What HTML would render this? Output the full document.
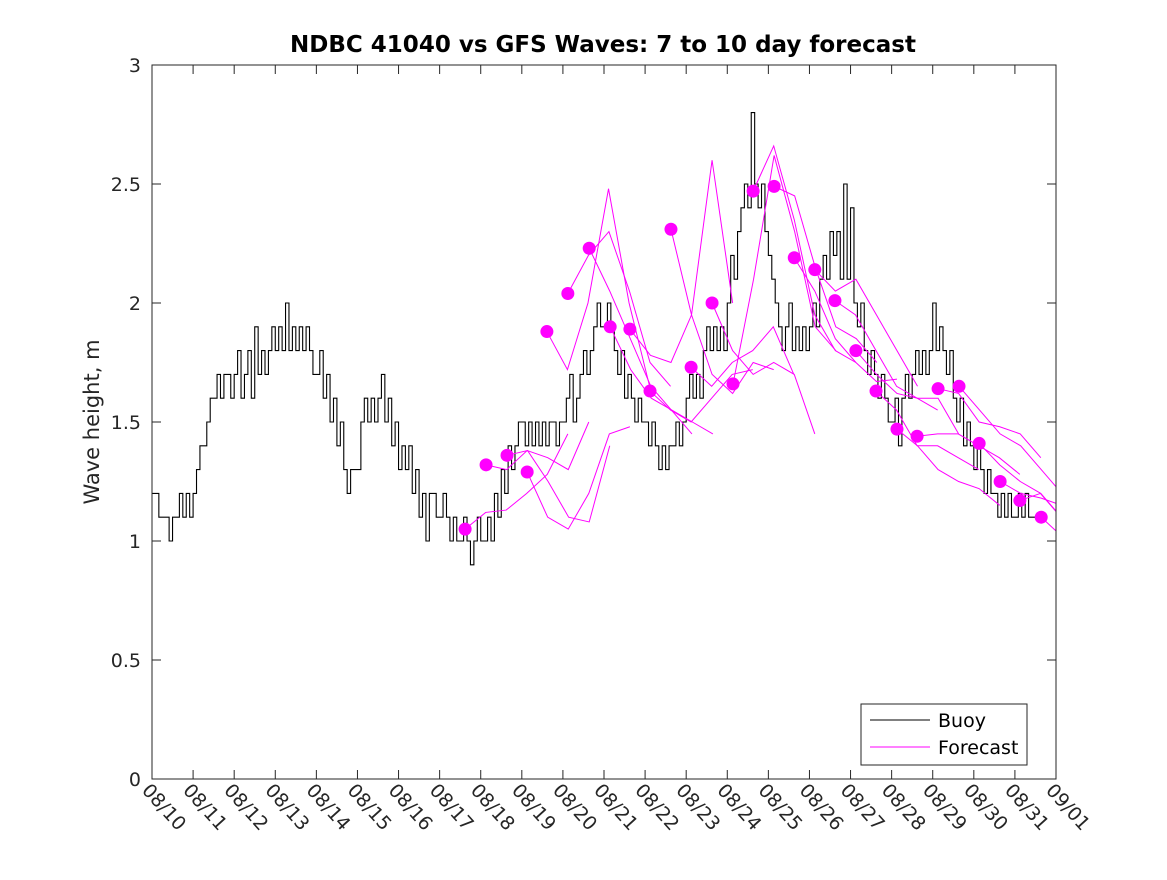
<!DOCTYPE html>
<html><head><meta charset="utf-8"><style>
body{margin:0;background:#fff;}
svg{font-family:"DejaVu Sans","Liberation Sans",sans-serif;}
</style></head><body>
<svg id="chart" width="1167" height="875">
<rect width="1167" height="875" fill="#fff"/>
<text x="603" y="52" text-anchor="middle" font-weight="bold" font-size="23">NDBC 41040 vs GFS Waves: 7 to 10 day forecast</text>
<text transform="translate(99,422) rotate(-90)" text-anchor="middle" font-size="21" fill="#262626">Wave height, m</text>
<g id="plot"></g>
</svg>
<script>
const xTickLabels=["08/10","08/11","08/12","08/13","08/14","08/15","08/16","08/17","08/18","08/19","08/20","08/21","08/22","08/23","08/24","08/25","08/26","08/27","08/28","08/29","08/30","08/31","09/01"];
const yTicks=[0,0.5,1,1.5,2,2.5,3];
const yTickLabels=["0","0.5","1","1.5","2","2.5","3"];
const buoyStep=1/12;
const buoyValues=[
1.2,1.2,1.1,1.1,1.1,1.0,1.1,1.1,1.2,1.1,1.2,1.1, 1.2,1.3,1.4,1.4,1.5,1.6,1.6,1.7,1.6,1.7,1.7,1.6,
1.7,1.8,1.6,1.7,1.8,1.6,1.9,1.7,1.8,1.7,1.8,1.9, 1.8,1.9,1.8,2.0,1.8,1.9,1.8,1.9,1.8,1.9,1.8,1.7,
1.7,1.8,1.6,1.7,1.5,1.6,1.4,1.5,1.3,1.2,1.3,1.3, 1.3,1.5,1.6,1.5,1.6,1.5,1.6,1.7,1.5,1.6,1.4,1.5,
1.3,1.4,1.3,1.4,1.2,1.3,1.1,1.2,1.0,1.2,1.2,1.1, 1.1,1.2,1.1,1.0,1.1,1.0,1.0,1.1,1.0,0.9,1.0,1.1,
1.0,1.0,1.1,1.0,1.2,1.1,1.3,1.2,1.4,1.3,1.4,1.5, 1.5,1.4,1.5,1.4,1.5,1.4,1.5,1.4,1.5,1.5,1.4,1.5,
1.5,1.6,1.7,1.5,1.6,1.7,1.8,1.7,1.8,1.9,2.0,1.9, 1.9,2.0,1.9,1.8,1.7,1.8,1.6,1.7,1.6,1.5,1.6,1.5,
1.5,1.4,1.5,1.4,1.3,1.4,1.3,1.4,1.4,1.5,1.4,1.5, 1.6,1.7,1.6,1.7,1.6,1.8,1.9,1.8,1.9,1.8,1.9,1.8,
2.0,2.2,2.1,2.3,2.4,2.5,2.4,2.8,2.5,2.4,2.5,2.3, 2.2,2.1,2.0,1.9,1.8,1.9,2.0,1.8,1.9,1.8,1.9,1.8,
1.9,2.0,1.9,2.1,2.2,2.1,2.3,2.2,2.3,2.1,2.5,2.1, 2.4,2.0,1.9,2.0,1.8,1.7,1.8,1.7,1.6,1.7,1.6,1.5,
1.5,1.6,1.4,1.6,1.7,1.6,1.7,1.8,1.7,1.8,1.7,1.8, 2.0,1.8,1.9,1.8,1.7,1.8,1.6,1.5,1.6,1.4,1.5,1.4,
1.3,1.4,1.3,1.2,1.3,1.2,1.2,1.1,1.2,1.1,1.2,1.1, 1.1,1.2,1.1,1.2,1.1,1.1];
const fcStarts=[7.62,8.13,8.64,9.13,9.61,10.12,10.64,11.15,11.63,12.12,12.63,13.12,13.63,14.14,14.63,15.14,15.63,16.13,16.62,17.13,17.62,18.13,18.62,19.13,19.64,20.13,20.64,21.12,21.64];
const fcStep=0.5;
const fcValues=[
[1.05,1.12,1.13,1.20,1.28,1.45],
[1.32,1.30,1.38,1.35,1.30,1.50],
[1.36,1.38,1.25,1.10,1.08,1.40],
[1.29,1.10,1.05,1.20,1.45,1.48],
[1.88,1.72,2.00,2.48,2.00,1.65],
[2.04,2.20,2.30,2.05,1.75,1.65],
[2.23,2.05,1.85,1.65,1.55,1.45],
[1.90,1.72,1.60,1.55,1.50,1.45],
[1.89,1.78,1.75,1.95,2.60,2.00],
[1.63,1.55,1.50,1.60,1.70,1.72],
[2.31,1.95,1.70,1.62,1.75,1.72],
[1.73,1.65,1.75,1.80,1.90,1.70],
[2.00,1.80,1.70,1.75,1.70,1.45],
[1.66,2.10,2.62,2.30,1.90,1.80],
[2.47,2.66,2.35,1.95,1.80,1.75],
[2.49,2.45,2.15,1.90,1.85,1.75],
[2.19,2.05,1.85,1.75,1.67,1.68],
[2.14,2.05,2.10,1.95,1.80,1.65],
[2.01,1.95,1.80,1.65,1.60,1.55],
[1.80,1.70,1.62,1.60,1.60,1.45],
[1.63,1.55,1.40,1.40,1.35,1.30],
[1.47,1.40,1.30,1.25,1.22,1.15],
[1.44,1.45,1.45,1.40,1.35,1.28],
[1.64,1.62,1.50,1.48,1.45,1.35],
[1.65,1.55,1.45,1.40,1.30,1.20],
[1.41,1.32,1.25,1.20,1.10,1.00],
[1.25,1.20,1.18,1.15,1.08,1.00],
[1.17,1.20,1.10,1.05],
[1.10,1.02,0.92]];

const X0=152,X1=1056,Y0=779,Y1=65,DAYS=22,YMAX=3;
const xs=d=>X0+(X1-X0)*d/DAYS;
const ys=v=>Y0-(Y0-Y1)*v/YMAX;
const NS="http://www.w3.org/2000/svg";
const plot=document.getElementById('plot');
function mk(tag,attrs,parent){const e=document.createElementNS(NS,tag);for(const k in attrs)e.setAttribute(k,attrs[k]);(parent||plot).appendChild(e);return e;}

const clip=mk('clipPath',{id:'clip'});
mk('rect',{x:X0,y:Y1,width:X1-X0,height:Y0-Y1},clip);

let d='';
buoyValues.forEach((v,i)=>{const x=xs(i*buoyStep),y=ys(v);if(i===0)d+=`M${x},${y}`;else d+=`V${y}`;d+=`H${xs((i+1)*buoyStep)}`;});
const bl=mk('path',{d:d,fill:'none',stroke:'#000','stroke-width':1.1,'clip-path':'url(#clip)'});



fcValues.forEach((arr,i)=>{
  const pts=arr.map((v,j)=>`${xs(fcStarts[i]+j*fcStep)},${ys(v)}`).join(' ');
  const pl=mk('polyline',{points:pts,fill:'none',stroke:'#ff00ff','stroke-width':1,'clip-path':'url(#clip)'});
  
  
});
fcValues.forEach((arr,i)=>{
  const c=mk('circle',{cx:xs(fcStarts[i]),cy:ys(arr[0]),r:6.5,fill:'#ff00ff'});
  
  
});

const box=mk('rect',{x:X0,y:Y1,width:X1-X0,height:Y0-Y1,fill:'none',stroke:'#262626','stroke-width':1});



yTicks.forEach((v,i)=>{
  const y=ys(v);
  mk('line',{x1:X0,x2:X0+9,y1:y,y2:y,stroke:'#262626'});
  mk('line',{x1:X1,x2:X1-9,y1:y,y2:y,stroke:'#262626'});
  const t=mk('text',{x:X0-11,y:y+7,'text-anchor':'end','font-size':19,fill:'#262626'});
  t.textContent=yTickLabels[i];
  
  
});
xTickLabels.forEach((lab,i)=>{
  const x=xs(i);
  mk('line',{x1:x,x2:x,y1:Y0,y2:Y0-9,stroke:'#262626'});
  mk('line',{x1:x,x2:x,y1:Y1,y2:Y1+9,stroke:'#262626'});
  const t=mk('text',{x:0,y:0,'font-size':19,fill:'#262626',transform:`translate(${x-11},${Y0+12}) rotate(48)`});
  t.textContent=lab;
  
  
});

const lg=mk('g',{});


mk('rect',{x:861,y:704,width:166,height:61,fill:'#fff',stroke:'#262626'},lg);
mk('line',{x1:870,x2:930,y1:720,y2:720,stroke:'#000'},lg);
mk('line',{x1:870,x2:930,y1:747,y2:747,stroke:'#ff00ff'},lg);
const t1=mk('text',{x:938,y:727,'font-size':19,fill:'#000'},lg);t1.textContent='Buoy';


const t2=mk('text',{x:938,y:754,'font-size':19,fill:'#000'},lg);t2.textContent='Forecast';


</script>
</body></html>
